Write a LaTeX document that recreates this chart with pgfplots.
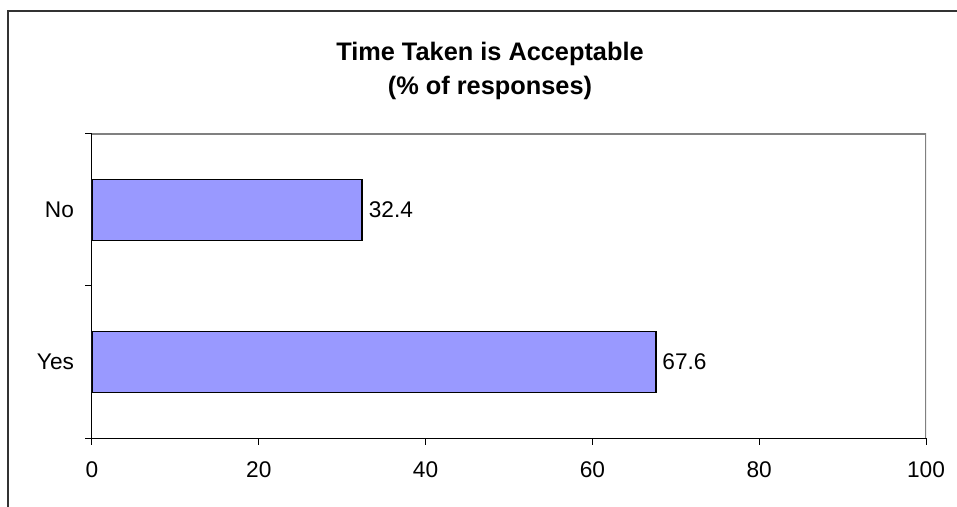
\documentclass[border=0pt]{standalone}
\usepackage{pgfplots}
\pgfplotsset{compat=1.18}
\usepackage{fontspec}
\setmainfont{Liberation Sans}
\definecolor{barfill}{HTML}{9999FF}
\definecolor{framegray}{HTML}{808080}
\begin{document}
\begin{tikzpicture}
\useasboundingbox (0,0) rectangle (717.75pt,380.25pt);
% outer chart frame (cut at right and bottom)
\draw[line width=1pt, black!80] (6pt,-2pt) -- (6pt,372pt) -- (720pt,372pt);
% title
\node[anchor=base, font=\fontsize{19}{23}\selectfont\bfseries] at (367.5pt,334.5pt) {Time Taken is Acceptable};
\node[anchor=base, font=\fontsize{19}{23}\selectfont\bfseries] at (367.5pt,309pt) {(\% of responses)};
\begin{axis}[
  at={(69pt,51.75pt)}, anchor=south west,
  scale only axis, width=625.5pt, height=228pt,
  xbar, bar width=0.4,
  xmin=0, xmax=100, ymin=-0.5, ymax=1.5,
  xtick={0,20,40,60,80,100},
  ytick={-0.5,0.5,1.5}, yticklabels={,,},
  extra y ticks={0,1}, extra y tick labels={Yes,No},
  extra y tick style={tick style={draw=none}},
  tick align=outside, major tick length=5pt,
  axis x line*=bottom, axis y line*=left,
  axis line style={line width=0.75pt, black},
  tick style={line width=0.75pt, black},
  /pgf/number format/assume math mode=true,
  tick label style={font=\fontsize{17}{20}\selectfont},
  yticklabel style={xshift=-5pt},
  xticklabel style={yshift=-9pt},
  nodes near coords, point meta=explicit symbolic,
  nodes near coords style={font=\fontsize{17}{20}\selectfont, anchor=west, xshift=1pt},
]
\addplot[fill=barfill, draw=black, line width=1.3pt] coordinates {(67.6,0) [67.6] (32.4,1) [32.4]};
\draw[framegray, line width=1.5pt] (rel axis cs:0,1) -- (rel axis cs:1,1) -- (rel axis cs:1,0);
\end{axis}
\end{tikzpicture}
\end{document}
